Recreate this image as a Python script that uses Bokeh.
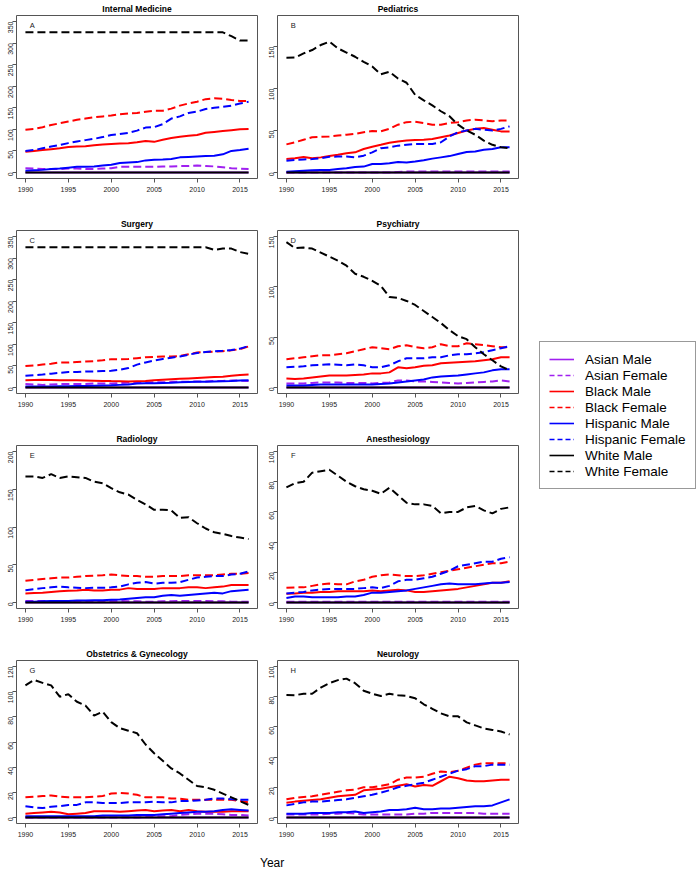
import math
from bokeh.plotting import figure
from bokeh.models import Legend, LegendItem, FixedTicker, Range1d, Label, Div
from bokeh.layouts import row, column
from bokeh.embed import file_html
from bokeh.resources import INLINE

years = list(range(1990, 2017))
x_ticks = [1990, 1995, 2000, 2005, 2010, 2015]

series_names = ["Asian Male", "Asian Female", "Black Male", "Black Female",
                "Hispanic Male", "Hispanic Female", "White Male", "White Female"]
series_colors = ["#A020F0", "#A020F0", "#FF0000", "#FF0000",
                 "#0000FF", "#0000FF", "#000000", "#000000"]
series_dashed = [False, True, False, True, False, True, False, True]

zeros = [0] * 27

# A: Internal Medicine
im_am = zeros
im_af = [10, 9, 8, 8, 8, 9, 9, 8, 8, 9, 10, 13, 13, 13, 13, 13, 14, 14, 15, 15, 16, 15, 14, 12, 10, 9, 8]
im_bm = [48, 50, 52, 54, 56, 59, 60, 61, 63, 65, 66, 67, 68, 70, 73, 71, 76, 80, 83, 85, 87, 92, 94, 96, 98, 100, 101]
im_bf = [99, 101, 105, 110, 114, 118, 122, 125, 128, 130, 132, 135, 137, 138, 141, 143, 143, 148, 155, 160, 164, 170, 172, 171, 168, 166, 166]
im_hm = [4, 5, 6, 8, 9, 11, 13, 13, 14, 16, 18, 22, 23, 24, 28, 29.5, 30, 31, 35, 36, 37, 38, 39, 42, 50, 52, 55]
im_hf = [50, 52, 56, 60, 64, 68, 72, 75, 78, 82, 87, 89, 92, 97, 104, 105, 112, 125, 130, 138, 141, 147, 150, 152, 155, 160, 164]
im_wm = zeros
im_wf = [325, 325, 325, 325, 325, 325, 325, 325, 325, 325, 325, 325, 325, 325, 325, 325, 325, 325, 325, 325, 325, 325, 325, 325, 316, 306, 306]

# B: Pediatrics
pe_am = zeros
pe_af = [0, 0, 0, 0, 0, 0, 0, 0, 0, 0, 0, 0, 0, 0.5, 1, 1, 1, 1, 1, 1, 1, 1, 1, 1, 1, 1, 1]
pe_bm = [16, 17, 18.5, 17, 18, 19.5, 21, 23, 24, 28, 30.7, 33, 35.5, 37, 38, 38.7, 39, 40, 42, 44, 47, 50, 52, 53, 51, 49, 49]
pe_bf = [33.5, 36, 39, 42, 42.5, 43, 44, 45, 46, 48, 49.5, 49, 52, 57, 60, 60.6, 59, 57, 57, 59, 60, 62, 63, 62, 61, 62, 62]
pe_hm = [1, 1.5, 2, 2.5, 3, 3, 4, 5, 6.5, 7, 10, 10, 11, 12.5, 12, 13, 14.5, 16.5, 18, 19.5, 22, 24.5, 25, 27, 28, 30, 30]
pe_hf = [14, 15, 15.5, 16, 17, 18.7, 19, 19, 18, 20, 24, 29, 30, 32, 33, 34, 34, 34, 36, 43, 48, 50, 52, 51, 50, 52, 55]
pe_wm = zeros
pe_wf = [136.8, 137, 142, 146, 152, 156, 148, 143, 138, 132, 126.4, 117, 120, 112, 107, 92.5, 86, 80, 73, 67, 57, 50, 45, 38, 33, 30, 29]

# C: Surgery
su_am = zeros
su_af = [8, 7, 6, 7, 8, 8, 8, 8, 9, 9, 9, 10, 11, 12, 12, 12, 12, 13, 13, 13, 14, 14, 15, 15, 16, 16, 15]
su_bm = [17, 17.5, 18, 17.5, 17, 17, 16.5, 16, 15.5, 15, 14.7, 14.5, 14, 14.5, 15, 17, 18, 19, 20, 21, 22, 23, 24, 25, 27, 29, 30]
su_bf = [49.5, 51, 53, 55, 58, 58, 59, 60, 61, 63, 65.7, 65.5, 66, 68, 70, 71, 72, 72, 73, 77, 81, 82, 83, 84, 86, 89, 95]
su_hm = [2, 2, 2.5, 2.5, 3, 3, 3.5, 3.5, 4, 4.5, 5, 6, 7, 9, 9.5, 10, 10.5, 11, 12, 12.5, 13, 13.5, 14, 14.5, 15, 16, 17]
su_hf = [27, 28.5, 30, 32, 34, 36, 36, 37, 37, 38, 38.6, 41, 45, 53, 58, 62.6, 66, 69, 72, 76, 80, 82, 84, 85, 87, 90, 96]
su_wm = zeros
su_wf = [325, 325, 325, 325, 325, 325, 325, 325, 325, 325, 325, 325, 325, 325, 325, 325, 325, 325, 325, 325, 325, 325, 319, 322, 322, 314, 310]

# D: Psychiatry
ps_am = zeros
ps_af = [4, 4, 4, 4.5, 5, 5, 5, 4.5, 4.5, 4.5, 4, 4.5, 5, 7, 7, 6, 6, 5.5, 5, 4.5, 4, 4.5, 5, 5.5, 6, 7, 6]
ps_bm = [9, 8.5, 9, 10, 11, 12, 12, 12, 12.5, 13, 14, 14, 15, 20, 19, 20, 21.5, 22, 24, 24.5, 25, 25.5, 26, 27, 28, 30, 30]
ps_bf = [28, 29, 30, 31, 32, 32, 33, 34, 36, 38, 40, 39, 38, 41, 42, 40, 39, 40, 43, 41, 41, 44, 43, 42, 41, 40, 40]
ps_hm = [2, 2, 2, 2.5, 3, 3, 3, 3, 3, 3, 3, 3.5, 4, 5, 6, 7, 8, 10, 11, 11.5, 12, 13, 14, 15, 17, 18, 18]
ps_hf = [20, 20.5, 21, 22, 22.5, 23, 22.5, 22, 23, 22, 20, 20, 22, 26, 29, 29, 29, 30, 30, 32, 33, 33, 34, 35, 37, 39, 41]
ps_wm = zeros
ps_wf = [144.4, 138.4, 139, 138, 134, 130, 126, 121, 113, 110, 106, 101, 90, 89, 86, 82, 76, 70, 64, 57, 51, 48, 40, 33, 27, 21, 17]

# E: Radiology
ra_am = zeros
ra_af = [2, 2, 2, 2, 2, 2, 2, 2, 2, 2, 2, 2, 1.5, 1.5, 1, 1, 1.5, 1.5, 2, 2, 2, 2, 1.5, 1.5, 1, 1, 1]
ra_bm = [12, 12.5, 13, 14, 15, 15.5, 16, 17, 16, 16, 17, 17, 19, 18, 18, 18, 19, 19, 19, 20, 20, 19, 20, 21, 23, 23, 23]
ra_bf = [28.7, 30, 31, 32, 33, 33, 34, 35, 35.5, 36, 37, 36, 35, 35, 34, 34, 35, 35, 35, 36, 36, 36, 36, 37, 38, 38, 39]
ra_hm = [1, 1, 1.5, 2, 2, 2, 2.5, 2.5, 3, 3, 3.5, 4, 5, 6, 7, 7, 9, 10, 9, 10, 11, 12, 13, 12, 15, 16, 17]
ra_hf = [16.3, 17.5, 19, 20, 21, 20, 19.5, 19, 19.5, 19.5, 20, 21, 24, 26, 27, 25, 26, 26, 27, 30, 33, 34, 35, 35, 37, 38, 41]
ra_wm = zeros
ra_wf = [167, 167, 165, 170, 165, 167, 166, 165, 160, 158, 151.4, 146, 143, 136, 130, 122.7, 123, 122, 112, 113, 105, 98, 93, 91, 88, 86, 84]

# F: Anesthesiology
an_am = zeros
an_af = [0.5, 0.5, 0.5, 0.5, 0.5, 0.5, 0.5, 0.5, 0.5, 0.5, 0.5, 0.5, 0.5, 0.5, 0.5, 0.5, 0.5, 0.5, 0.5, 0.5, 0.5, 0.5, 0.5, 0.5, 0.5, 0.5, 0.5]
an_bm = [5.7, 6, 6.5, 6.5, 7, 7, 7.5, 7.5, 7.5, 7.5, 8, 7.5, 8, 8.5, 8, 7, 7, 7.5, 8, 8.5, 9, 10, 11, 12, 13, 13, 14]
an_bf = [9.7, 10, 10, 11, 12, 12.5, 12, 12, 14, 15, 17, 18, 18.5, 18, 17.5, 17.5, 18, 19, 20, 21, 22, 23, 24, 25, 26, 26, 27]
an_hm = [3, 4, 4, 3.5, 3.5, 3.5, 3.5, 4, 4, 5, 6.5, 6.5, 7, 7.5, 8, 9, 10, 11, 12, 12.5, 12, 12, 12, 12.5, 13, 13, 13.5]
an_hf = [6, 6.5, 7, 8, 8.5, 9, 9, 9, 9, 9.5, 10, 9.5, 11, 14, 15, 15, 16, 17, 19, 21, 24, 25, 26, 27, 27, 29, 30]
an_wm = zeros
an_wf = [76.2, 79, 80, 86, 87, 87.9, 84, 80, 77, 75, 74, 72, 76, 71, 66, 65, 65, 64, 59, 60, 60, 63, 64, 61, 59, 62, 63]

# G: Obstetrics & Gynecology
ob_am = zeros
ob_af = [0, 0, 0, 0, 0, 0, 0, 0, 0, 0, 0, 0, 0, 0, 0.5, 1, 1, 1, 2, 2.5, 3, 3, 3, 2.5, 2, 2, 1.5]
ob_bm = [3, 3.5, 4, 4.5, 4, 2.5, 3, 3.5, 5, 5, 5, 4.5, 5, 5.5, 6, 5, 5.5, 6, 5, 6, 5, 4.5, 4.5, 4.5, 5, 5, 5]
ob_bf = [16, 16.5, 17, 17.5, 16.5, 16, 16, 16, 16.5, 17, 19, 19.5, 19, 18, 16, 16, 16, 15, 15, 14, 14, 14, 14, 14, 14, 13, 12]
ob_hm = [1, 1, 1, 1, 1, 1, 1, 1, 1, 1.5, 1.5, 1.5, 1.5, 2, 2, 2, 2.5, 3, 3.5, 4, 4.5, 4.5, 5, 6, 6.5, 6, 5.5]
ob_hf = [9, 8, 7.5, 8.5, 9, 10, 10, 12, 12, 11.5, 11.5, 11.5, 12, 12, 12, 12.5, 12, 12, 13, 13, 13.5, 14, 15, 15, 14.5, 14, 14]
ob_wm = zeros
ob_wf = [105, 109.4, 107, 105, 96, 98, 92, 89, 81, 84, 75.8, 71, 69, 67, 58, 51, 45, 39, 35, 30, 25, 24, 22, 19, 16, 13, 10]

# H: Neurology
ne_am = zeros
ne_af = [2, 2, 2, 2, 2, 2.5, 2.5, 3, 2.5, 2, 2, 2, 2, 2, 2, 2.5, 2.5, 3, 3, 3, 3, 3, 3, 2.5, 2.5, 2.5, 2.5]
ne_bm = [9.7, 10.5, 11, 11.5, 12, 13, 14, 14.5, 15, 18, 18.5, 19, 20, 21, 22, 20.5, 21.5, 21, 24, 27, 26, 24.5, 24, 24, 24.5, 25, 25]
ne_bf = [12, 13, 13.5, 14, 15, 16, 17, 18, 18.5, 20, 20, 21, 22, 25, 26.5, 26.5, 27, 29, 30.5, 30, 31, 33, 35, 36, 36, 36, 36]
ne_hm = [2.5, 2.5, 2.5, 3, 3, 3, 3.5, 3.5, 4, 3, 3.5, 4, 5, 5, 5.5, 6.5, 5.5, 5.5, 6, 6, 6.5, 7, 7.5, 7.5, 8, 10, 12]
ne_hf = [8, 9, 10, 10.5, 10.5, 11, 11.5, 12, 13, 14, 15, 16.5, 18, 20, 21, 22, 23, 25, 27, 29, 31, 32, 34, 34, 35, 35, 35]
ne_wm = zeros
ne_wf = [81.2, 81, 82, 82, 86, 89, 91, 92, 89, 84, 82, 80.5, 82, 81, 80.5, 79, 75, 72, 69, 67, 67, 63, 61, 59, 58, 57, 55]

panels = [
    ("Internal Medicine", "A", 350, 50, [im_am, im_af, im_bm, im_bf, im_hm, im_hf, im_wm, im_wf]),
    ("Pediatrics", "B", 180, 50, [pe_am, pe_af, pe_bm, pe_bf, pe_hm, pe_hf, pe_wm, pe_wf]),
    ("Surgery", "C", 350, 50, [su_am, su_af, su_bm, su_bf, su_hm, su_hf, su_wm, su_wf]),
    ("Psychiatry", "D", 150, 50, [ps_am, ps_af, ps_bm, ps_bf, ps_hm, ps_hf, ps_wm, ps_wf]),
    ("Radiology", "E", 200, 50, [ra_am, ra_af, ra_bm, ra_bf, ra_hm, ra_hf, ra_wm, ra_wf]),
    ("Anesthesiology", "F", 100, 20, [an_am, an_af, an_bm, an_bf, an_hm, an_hf, an_wm, an_wf]),
    ("Obstetrics & Gynecology", "G", 120, 20, [ob_am, ob_af, ob_bm, ob_bf, ob_hm, ob_hf, ob_wm, ob_wf]),
    ("Neurology", "H", 100, 20, [ne_am, ne_af, ne_bm, ne_bf, ne_hm, ne_hf, ne_wm, ne_wf]),
]

FONT = "Liberation Sans"
FRAME_W = 241
FRAME_H = 163
TOP = 15


def make_panel(idx, title, letter, ymax, ystep, data):
    col = idx % 2
    rw = idx // 2
    b_left = 16
    b_right = 4 if col == 0 else 5
    b_bottom = 37 if rw < 3 else 20
    w = b_left + FRAME_W + b_right
    h = TOP + FRAME_H + b_bottom
    pad = 0.04 * (2016 - 1990)
    p = figure(width=w, height=h, output_backend="svg", toolbar_location=None,
               x_range=Range1d(1990 - pad, 2016 + pad),
               y_range=Range1d(-0.04 * ymax, 1.04 * ymax),
               min_border_left=b_left, min_border_right=b_right,
               min_border_top=TOP, min_border_bottom=b_bottom,
               title=title)
    p.title.align = "center"
    p.title.text_font = FONT
    p.title.text_font_size = "8.5px"
    p.title.text_font_style = "bold"
    p.title.text_color = "#000000"
    p.title.standoff = 3
    p.outline_line_color = "#555555"
    p.outline_line_width = 1
    p.background_fill_color = "white"
    p.border_fill_color = "white"
    p.xgrid.visible = False
    p.ygrid.visible = False
    p.xaxis.ticker = FixedTicker(ticks=x_ticks)
    p.yaxis.ticker = FixedTicker(ticks=list(range(0, ymax + 1, ystep)))
    p.yaxis.major_label_orientation = math.pi / 2
    for ax in (p.xaxis[0], p.yaxis[0]):
        ax.axis_line_color = None
        ax.major_tick_line_color = "#555555"
        ax.major_tick_in = 0
        ax.major_tick_out = 4
        ax.minor_tick_line_color = None
        ax.major_label_text_font = FONT
        ax.major_label_text_font_size = "7px"
        ax.major_label_text_color = "#222222"
    p.xaxis[0].major_label_standoff = 4
    p.yaxis[0].major_label_standoff = 2
    for vals, c, d in zip(data, series_colors, series_dashed):
        p.line(years, vals, line_color=c, line_width=2,
               line_dash="8 4" if d else "solid")
    p.add_layout(Label(x=1990.8, y=0.975 * ymax, text=letter, text_font=FONT,
                       text_font_size="7.5px", text_align="center",
                       text_baseline="middle", text_color="#222222"))
    return p


figs = [make_panel(i, *pn) for i, pn in enumerate(panels)]

# Legend figure (its proxy renderers use panel A's data but lie outside its range)
leg_w = 697 - (16 + FRAME_W + 4) - (16 + FRAME_W + 5)
leg_h = (TOP + FRAME_H + 37) * 3 + (TOP + FRAME_H + 20)
lf = figure(width=leg_w, height=leg_h, output_backend="svg", toolbar_location=None,
            x_range=Range1d(0, 1), y_range=Range1d(0, 1),
            x_axis_location=None, y_axis_location=None,
            min_border_left=0, min_border_right=0, min_border_top=0, min_border_bottom=0)
lf.outline_line_color = None
lf.xgrid.visible = False
lf.ygrid.visible = False
items = []
for name, c, d, vals in zip(series_names, series_colors, series_dashed, panels[0][4]):
    r = lf.line(x=years, y=vals, line_color=c, line_width=1.6,
                line_dash="5 3" if d else "solid")
    items.append(LegendItem(label=name, renderers=[r]))
legend = Legend(items=items, location=(16, leg_h - 489),
                label_text_font=FONT, label_text_font_size="13.5px",
                label_text_color="#000000",
                glyph_width=25, glyph_height=16, label_height=16,
                label_standoff=11, spacing=0, padding=9, margin=0,
                border_line_color="#333333", border_line_width=1,
                background_fill_color="white", background_fill_alpha=1)
lf.add_layout(legend)

year_div = Div(text='<div style="padding-left:255px;padding-top:8px;font-family:\'Liberation Sans\',Arial,sans-serif;'
                    'font-size:12px;line-height:14px;color:#000;">Year</div>',
               width=697, height=28)

left_col = column(figs[0], figs[2], figs[4], figs[6])
right_col = column(figs[1], figs[3], figs[5], figs[7])
layout = column(row(left_col, right_col, lf), year_div)

open("out.html", "w").write(file_html(layout, INLINE))
